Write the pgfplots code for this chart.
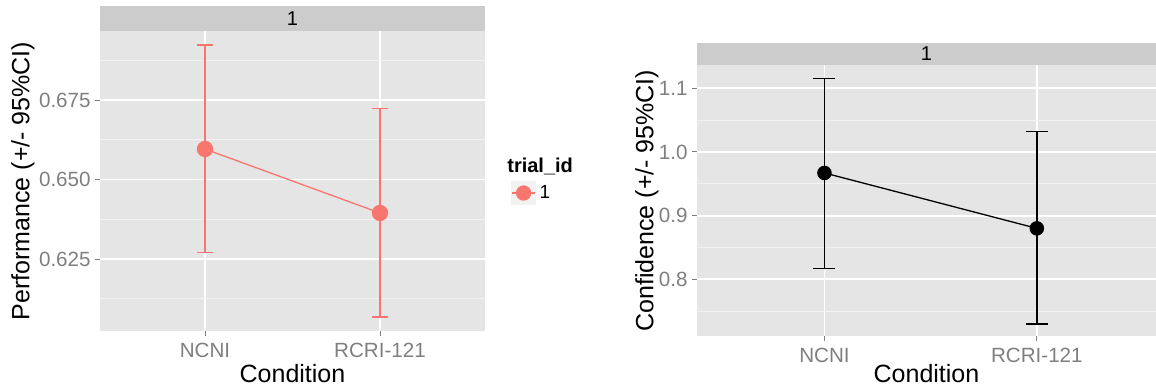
\documentclass[border=0pt]{standalone}
\usepackage{fontspec}
\setmainfont{Liberation Sans}
\usepackage{pgfplots}
\usepackage{pgfplotstable}
\pgfplotsset{compat=1.18}
\definecolor{salmon}{HTML}{F8766D}
\definecolor{panelbg}{HTML}{E5E5E5}
\definecolor{stripbg}{HTML}{CCCCCC}
\definecolor{minorg}{HTML}{F2F2F2}
\definecolor{ticklab}{HTML}{7F7F7F}
\definecolor{keybg}{HTML}{F2F2F2}

\pgfplotstableread{
c m p n
1 0.6596 0.0327 0.0325
2 0.6395 0.0329 0.0327
}\perfdata
\pgfplotstableread{
c m p n
1 0.967 0.148 0.150
2 0.880 0.152 0.150
}\confdata

\pgfplotsset{ggstyle/.style={
  scale only axis, clip=false,
  axis background/.style={fill=panelbg},
  axis line style={draw=none},
  xmin=0.4,
  xtick={1,2}, xticklabels={NCNI,RCRI-121},
  ymajorgrids, xmajorgrids, yminorgrids,
  major grid style={white, line width=0.9pt},
  minor grid style={minorg, line width=0.5pt},
  tick align=outside, tick pos=left,
  major tick length=2.5pt, minor tick length=0pt,
  tick style={ticklab, line width=0.5pt},
  tick label style={font=\fontsize{10.3}{12}\selectfont, text=ticklab},
  yticklabel style={inner sep=2pt},
  /pgf/number format/assume math mode=true,
  scaled y ticks=false,
  label style={font=\fontsize{12.5}{15}\selectfont},
  xlabel={Condition},
}}

\begin{document}
\begin{tikzpicture}
\path[use as bounding box] (0pt,0pt) rectangle (578pt,-193.5pt);

\begin{axis}[ggstyle,
  at={(50pt,-15.5pt)}, anchor=north west,
  width=192.5pt, height=150pt,
  xmax=2.6, ymin=0.6024, ymax=0.6967,
  ytick={0.625,0.650,0.675},
  minor ytick={0.6125,0.6375,0.6625,0.6875},
  yticklabel style={/pgf/number format/.cd, fixed, fixed zerofill, precision=3},
  ylabel={Performance (+/- 95\%CI)},
  ylabel style={at={(axis description cs:-0.2,0.5)}, anchor=center},
  xlabel style={at={(axis description cs:0.5,-0.143)}, anchor=center},
  legend style={at={(axis description cs:1.052,0.46)}, anchor=west, draw=none, fill=none,
    font=\fontsize{9.5}{11}\selectfont},
  legend image code/.code={
    \fill[keybg] (-1pt,-5.5pt) rectangle (10.5pt,5.5pt);
    \draw[salmon, line width=0.6pt] (-1pt,0pt) -- (10.5pt,0pt);
    \fill[salmon] (4.75pt,0pt) circle (3.5pt);
  },
]
\fill[stripbg] (axis description cs:0,1) rectangle ([yshift=12.5pt]axis description cs:1,1);
\node[font=\fontsize{10}{12}\selectfont] at ([yshift=6.25pt]axis description cs:0.5,1) {1};
\addplot[salmon, line width=0.65pt, mark=*, mark size=3.75pt,
  mark options={fill=salmon, draw=salmon},
  error bars/.cd, y dir=both, y explicit,
  error bar style={salmon, line width=0.65pt},
  error mark options={rotate=90, mark size=4.2pt, line width=0.65pt, salmon}]
  table[x=c, y=m, y error plus=p, y error minus=n] {\perfdata};
\addlegendentry{1}
\node[anchor=west, font=\bfseries\fontsize{10}{12}\selectfont, inner sep=0pt]
  at (axis description cs:1.057,0.547) {trial\_id};
\end{axis}

\begin{axis}[ggstyle,
  at={(348.5pt,-32.65pt)}, anchor=north west,
  width=229.5pt, height=135.35pt,
  xmax=2.561, ymin=0.711, ymax=1.136,
  ytick={0.8,0.9,1.0,1.1},
  minor ytick={0.75,0.85,0.95,1.05},
  yticklabel style={/pgf/number format/.cd, fixed, fixed zerofill, precision=1},
  ylabel={Confidence (+/- 95\%CI)},
  ylabel style={at={(axis description cs:-0.109,0.5)}, anchor=center},
  xlabel style={at={(axis description cs:0.5,-0.140)}, anchor=center},
]
\fill[stripbg] (axis description cs:0,1) rectangle ([yshift=11.3pt]axis description cs:1,1);
\node[font=\fontsize{10}{12}\selectfont] at ([yshift=5.65pt]axis description cs:0.5,1) {1};
\addplot[black, line width=0.65pt, mark=*, mark size=3.3pt,
  mark options={fill=black, draw=black},
  error bars/.cd, y dir=both, y explicit,
  error bar style={black, line width=0.65pt},
  error mark options={rotate=90, mark size=5.5pt, line width=0.65pt, black}]
  table[x=c, y=m, y error plus=p, y error minus=n] {\confdata};
\end{axis}
\end{tikzpicture}
\end{document}
